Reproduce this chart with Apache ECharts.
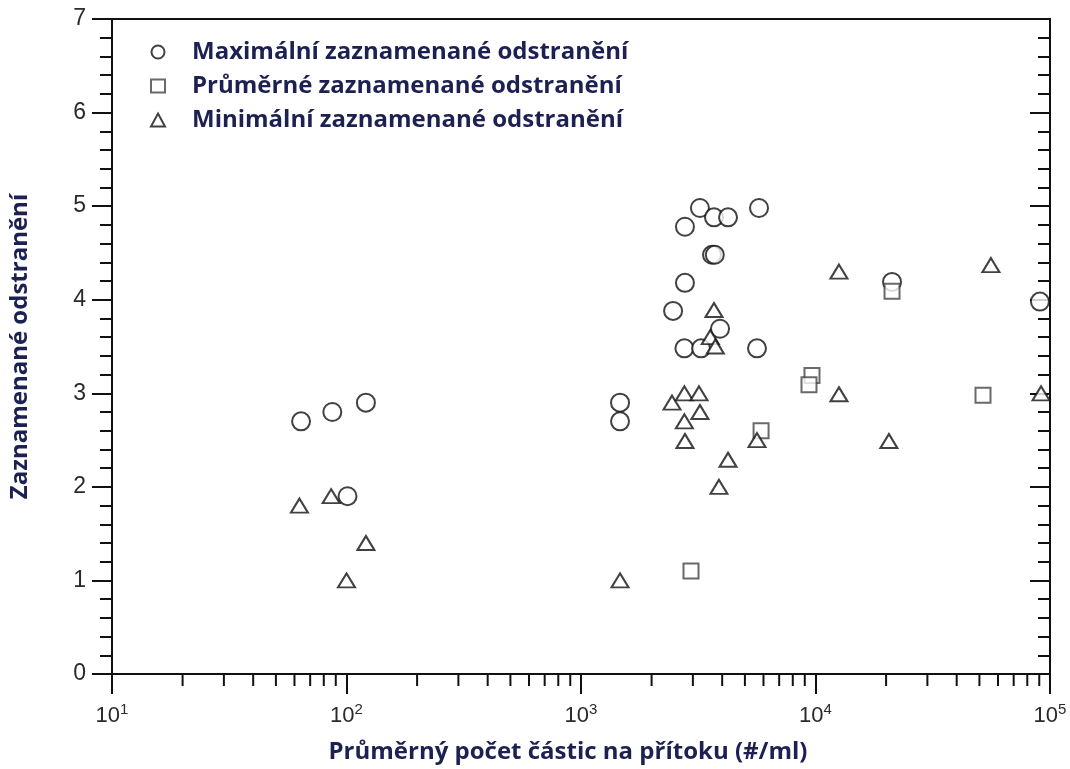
<!DOCTYPE html>
<html>
<head>
<meta charset="utf-8">
<script src="https://cdn.jsdelivr.net/npm/echarts@6/dist/echarts.min.js"></script>
<style>
  html, body { margin: 0; padding: 0; background: #fff; }
  #chart { width: 1070px; height: 769px; }
</style>
</head>
<body>
<div id="chart"></div>
<script>
// values: [particles per ml, removal]
const maxRemoval = [
  [64, 2.7], [87, 2.8], [121, 2.9], [101, 1.9],
  [1467, 2.9], [1467, 2.7],
  [2470, 3.88], [2775, 4.78], [2775, 4.18], [3215, 4.98], [3690, 4.88],
  [4236, 4.88], [5743, 4.98], [3620, 4.48], [3720, 4.48], [3916, 3.69],
  [2760, 3.48], [3250, 3.48], [5630, 3.48],
  [21200, 4.19], [90600, 3.98]
];
const avgRemoval = [
  [2945, 1.1], [5860, 2.6], [9660, 3.19], [9380, 3.09], [21200, 4.09], [51800, 2.98]
];
const minRemoval = [
  [63, 1.8], [86, 1.9], [121, 1.4], [100, 1.0],
  [1467, 1.0], [2444, 2.9], [2760, 3.0], [3186, 3.0], [3215, 2.8],
  [2760, 2.7], [2775, 2.49], [3690, 3.89], [3560, 3.6], [3740, 3.5],
  [5630, 2.5], [4236, 2.29], [3875, 2.0],
  [12590, 4.3], [12590, 2.99], [20560, 2.49], [55980, 4.37], [91600, 3.0]
];
const seriesNames = [
  "Maximální zaznamenané odstranění",
  "Průměrné zaznamenané odstranění",
  "Minimální zaznamenané odstranění"
];
const xMinorTicks = [
  20, 30, 40, 50, 60, 70, 80, 90,
  200, 300, 400, 500, 600, 700, 800, 900,
  2000, 3000, 4000, 5000, 6000, 7000, 8000, 9000,
  20000, 30000, 40000, 50000, 60000, 70000, 80000, 90000
];
const xTitle = "Průměrný počet částic na přítoku (#/ml)";
const yTitle = "Zaznamenané odstranění";

const titleColor = "#1c2152";
const markStyle = { color: "#fff", borderColor: "#111", borderWidth: 2 };

const chart = echarts.init(document.getElementById("chart"));

chart.setOption({
  animation: false,
  grid: {
    left: 111, right: 20, top: 19, bottom: 89,
    show: true, borderColor: "#111", borderWidth: 2
  },
  legend: {
    data: seriesNames,
    orient: "vertical",
    left: 145, top: 35,
    itemWidth: 14, itemHeight: 13, itemGap: 10,
    textStyle: { fontFamily: "Open Sans", fontWeight: "bold", fontSize: 24, color: titleColor, padding: [0, 0, 0, 22] }
  },
  xAxis: {
    type: "log", logBase: 10, min: 10, max: 100000,
    name: xTitle, nameLocation: "middle", nameGap: 66,
    nameTextStyle: { fontFamily: "Open Sans", fontWeight: "bold", fontSize: 24, color: titleColor, padding: [0, 26, 0, 0] },
    axisLine: { lineStyle: { color: "#111", width: 2 } },
    axisTick: { length: 20, lineStyle: { color: "#111", width: 2 } },
    splitLine: { show: false },
    axisLabel: {
      margin: 28,
      formatter: v => "{b|10}{s|" + Math.round(Math.log10(v)) + "}",
      rich: {
        b: { fontFamily: "Liberation Sans", fontSize: 22, color: "#2a2a2a" },
        s: { fontFamily: "Liberation Sans", fontSize: 15, color: "#2a2a2a", padding: [0, 0, 12, 0] }
      }
    }
  },
  yAxis: [{
    type: "value", min: 0, max: 7, interval: 1,
    name: yTitle, nameLocation: "middle", nameGap: 80,
    nameTextStyle: { fontFamily: "Open Sans", fontWeight: "bold", fontSize: 24, color: titleColor },
    axisLine: { show: true, lineStyle: { color: "#111", width: 2 } },
    axisTick: { length: 20, lineStyle: { color: "#111", width: 2 } },
    minorTick: { show: true, splitNumber: 5, length: 12, lineStyle: { color: "#111", width: 2 } },
    splitLine: { show: false },
    axisLabel: { margin: 26, fontFamily: "Liberation Sans", fontSize: 23, color: "#2a2a2a" }
  }, {
    type: "value", min: 0, max: 7, interval: 1, position: "right",
    axisLine: { show: true, lineStyle: { color: "#111", width: 2 } },
    axisTick: { inside: true, length: 20, lineStyle: { color: "#111", width: 2 } },
    minorTick: { show: true, splitNumber: 5, length: 12, lineStyle: { color: "#111", width: 2 } },
    splitLine: { show: false },
    axisLabel: { show: false }
  }],
  series: [
    { name: seriesNames[0], type: "scatter", symbol: "circle", symbolSize: 18, itemStyle: markStyle, data: maxRemoval },
    { name: seriesNames[1], type: "scatter", symbol: "rect", symbolSize: 15, itemStyle: Object.assign({}, markStyle, { borderColor: "#444" }), data: avgRemoval },
    { name: seriesNames[2], type: "scatter", symbol: "triangle", symbolSize: [17, 14], itemStyle: markStyle, data: minRemoval },
    {
      // log-scale minor ticks (2..9 per decade) under the x axis
      type: "custom", clip: false, silent: true,
      data: xMinorTicks.map(v => [v, 0]),
      renderItem: (params, api) => {
        const p = api.coord([api.value(0), 0]);
        return {
          type: "line",
          shape: { x1: p[0], y1: p[1], x2: p[0], y2: p[1] + 12 },
          style: { stroke: "#111", lineWidth: 2 }
        };
      }
    }
  ]
});
</script>
</body>
</html>
